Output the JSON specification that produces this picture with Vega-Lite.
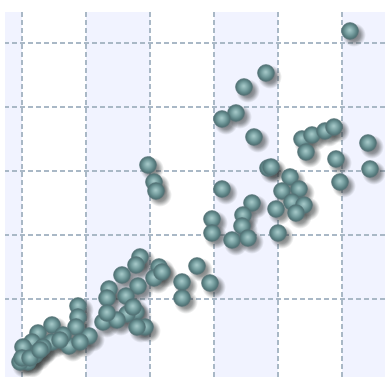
{"$schema":"https://vega.github.io/schema/vega-lite/v6.json","width":380,"height":365,"autosize":{"type":"none"},"padding":{"left":5,"top":12,"right":0,"bottom":0},"background":"white","view":{"stroke":null,"fill":"white"},"datasets":{"pts":[{"x":328,"y":332},{"x":244,"y":290},{"x":222,"y":276},{"x":214,"y":250},{"x":200,"y":244},{"x":232,"y":226},{"x":280,"y":224},{"x":290,"y":228},{"x":303,"y":232},{"x":312,"y":236},{"x":346,"y":220},{"x":284,"y":211},{"x":314,"y":204},{"x":348,"y":194},{"x":246,"y":195},{"x":249,"y":196},{"x":268,"y":186},{"x":318,"y":181},{"x":126,"y":198},{"x":132,"y":181},{"x":134,"y":172},{"x":200,"y":174},{"x":230,"y":160},{"x":221,"y":148},{"x":220,"y":137},{"x":190,"y":144},{"x":190,"y":130},{"x":210,"y":123},{"x":226,"y":125},{"x":256,"y":130},{"x":254,"y":154},{"x":260,"y":172},{"x":277,"y":174},{"x":270,"y":161},{"x":282,"y":158},{"x":274,"y":150},{"x":175,"y":97},{"x":188,"y":80},{"x":160,"y":81},{"x":160,"y":65},{"x":137,"y":96},{"x":132,"y":85},{"x":140,"y":91},{"x":118,"y":106},{"x":114,"y":98},{"x":100,"y":88},{"x":116,"y":77},{"x":87,"y":74},{"x":85,"y":65},{"x":104,"y":67},{"x":114,"y":51},{"x":105,"y":49},{"x":111,"y":56},{"x":123,"y":36},{"x":115,"y":36},{"x":81,"y":41},{"x":95,"y":43},{"x":85,"y":50},{"x":67,"y":27},{"x":56,"y":57},{"x":56,"y":46},{"x":54,"y":36},{"x":30,"y":38},{"x":16,"y":30},{"x":30,"y":21},{"x":10,"y":21},{"x":21,"y":16},{"x":47,"y":17},{"x":58,"y":21},{"x":41,"y":28},{"x":5,"y":11},{"x":13,"y":8},{"x":1,"y":16},{"x":6,"y":1},{"x":-2,"y":1},{"x":0,"y":5},{"x":8,"y":5},{"x":18,"y":13},{"x":38,"y":23}],"bands":[{"a":-17,"b":0},{"a":64,"b":128},{"a":192,"b":256},{"a":320,"b":363}],"vg":[{"x":0},{"x":64},{"x":128},{"x":192},{"x":256},{"x":320}],"hg":[{"y":64},{"y":128},{"y":192},{"y":256},{"y":320}]},"resolve":{"scale":{"x":"shared","y":"shared"}},"layer":[{"data":{"name":"bands"},"mark":{"type":"rect","fill":"#f1f3ff"},"encoding":{"x":{"field":"a","type":"quantitative","scale":{"domain":[-17,363],"nice":false,"zero":false},"axis":null},"x2":{"field":"b"}}},{"data":{"name":"vg"},"mark":{"type":"rule","stroke":"#a9b8c6","strokeWidth":2,"strokeDash":[5,3]},"encoding":{"x":{"field":"x","type":"quantitative","axis":null}}},{"data":{"name":"hg"},"mark":{"type":"rule","stroke":"#a9b8c6","strokeWidth":2,"strokeDash":[5,3]},"encoding":{"y":{"field":"y","type":"quantitative","scale":{"domain":[-14,351],"nice":false,"zero":false},"axis":null}}},{"data":{"name":"pts"},"mark":{"type":"circle","size":560,"opacity":1,"xOffset":4,"yOffset":4,"fill":{"gradient":"radial","x1":0.5,"y1":0.5,"r1":0,"x2":0.5,"y2":0.5,"r2":0.5,"stops":[{"offset":0,"color":"rgba(50,55,55,0.7)"},{"offset":0.55,"color":"rgba(50,55,55,0.5)"},{"offset":1,"color":"rgba(50,55,55,0)"}]}},"encoding":{"x":{"field":"x","type":"quantitative"},"y":{"field":"y","type":"quantitative"}}},{"data":{"name":"pts"},"mark":{"type":"circle","size":280,"opacity":1,"stroke":"#557477","strokeWidth":0.8,"fill":{"gradient":"radial","x1":0.48,"y1":0.44,"r1":0,"x2":0.5,"y2":0.5,"r2":0.52,"stops":[{"offset":0,"color":"#aacccc"},{"offset":0.45,"color":"#7ba3a4"},{"offset":0.8,"color":"#587e80"},{"offset":1,"color":"#4d6a6e"}]}},"encoding":{"x":{"field":"x","type":"quantitative"},"y":{"field":"y","type":"quantitative"}}}]}
